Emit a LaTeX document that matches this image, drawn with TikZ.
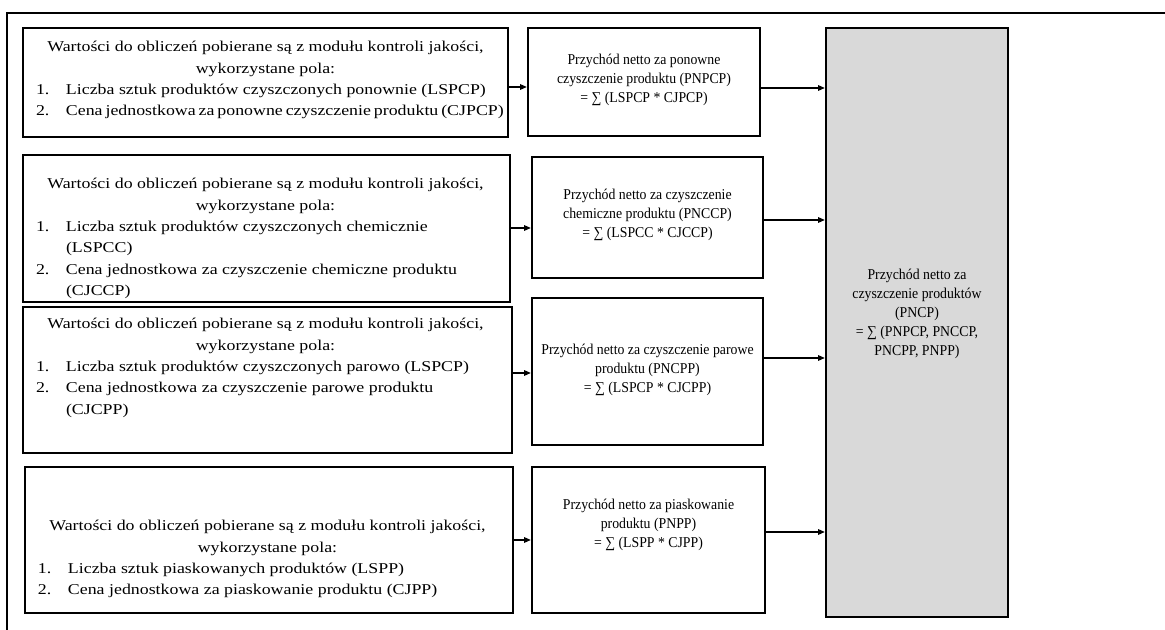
\documentclass[tikz,border=0pt]{standalone}
\usepackage{fontspec}
\setmainfont{Liberation Serif}
\newfontfamily\srcfont[FakeStretch=1.19]{Liberation Serif}
\newfontfamily\calcfont[FakeStretch=0.92]{Liberation Serif}
\usetikzlibrary{arrows.meta,fit}

% one centred line of a source box
\newcommand\srchead[1]{\makebox[363.75pt][c]{#1}}
% numbered field line and its continuation line (never broken)
\newcommand\srcitem[2]{\mbox{\hspace*{9.75pt}\makebox[22.5pt][l]{#1}#2}}
\newcommand\srcmore[1]{\mbox{\hspace*{32.25pt}#1}}
% text block of a source box: first baseline at the node's base
\newcommand\srcblock[1]{\parbox[t]{363.75pt}{\srcfont\fontsize{11.25pt}{16pt}\selectfont\raggedright\hfuzz=50pt #1}}
\newcommand\calcblock[2]{\parbox[t]{#1}{\calcfont\fontsize{11.25pt}{14.25pt}\selectfont\centering #2}}
% tighter word spacing for a long line
\newcommand\tight[1]{{\spaceskip=0.65\fontdimen2\font #1}}

\begin{document}
\begin{tikzpicture}[x=0.75pt,y=-0.75pt,
  srcbox/.style={draw,line width=1.8pt,inner sep=0pt},
  calcbox/.style={draw,line width=1.8pt,inner sep=0pt},
  sumbox/.style={draw,line width=1.8pt,inner sep=0pt,fill=sumgray},
  txt/.style={inner sep=0pt,outer sep=0pt},
  flow/.style={line width=0.8pt,-{Triangle[length=5pt,width=4.2pt]}}]
\definecolor{sumgray}{HTML}{D9D9D9}
\useasboundingbox (0,0) rectangle (1165,630);

% page frame
\draw[line width=1.5pt] (7,630) -- (7,13) -- (1165,13);

% source boxes
\node[srcbox,fit={(23,28) (508,137)}] (l1) {};
\node[srcbox,fit={(23,155) (510,302)}] (l2) {};
\node[srcbox,fit={(23,307) (512,453)}] (l3) {};
\node[srcbox,fit={(25,467) (513,613)}] (l4) {};

% calculation boxes
\node[calcbox,fit={(528,28) (760,136)}] (m1) {};
\node[calcbox,fit={(532,157) (763,278)}] (m2) {};
\node[calcbox,fit={(532,298) (763,445)}] (m3) {};
\node[calcbox,fit={(532,467) (765,613)}] (m4) {};

% total
\node[sumbox,fit={(826,28) (1008,617)}] (s) {};

% texts of the source boxes
\node[txt,anchor=base west] (l1t) at (23,52) {\srcblock{%
  \srchead{Wartości do obliczeń pobierane są z modułu kontroli jakości,}\\
  \srchead{wykorzystane pola:}\\
  \srcitem{1.}{Liczba sztuk produktów czyszczonych ponownie (LSPCP)}\\
  \srcitem{2.}{\tight{Cena jednostkowa za ponowne czyszczenie produktu (CJPCP)}}}};
\node[txt,anchor=base west] (l2t) at (23,189) {\srcblock{%
  \srchead{Wartości do obliczeń pobierane są z modułu kontroli jakości,}\\
  \srchead{wykorzystane pola:}\\
  \srcitem{1.}{Liczba sztuk produktów czyszczonych chemicznie}\\
  \srcmore{(LSPCC)}\\
  \srcitem{2.}{Cena jednostkowa za czyszczenie chemiczne produktu}\\
  \srcmore{(CJCCP)}}};
\node[txt,anchor=base west] (l3t) at (23,329) {\srcblock{%
  \srchead{Wartości do obliczeń pobierane są z modułu kontroli jakości,}\\
  \srchead{wykorzystane pola:}\\
  \srcitem{1.}{Liczba sztuk produktów czyszczonych parowo (LSPCP)}\\
  \srcitem{2.}{Cena jednostkowa za czyszczenie parowe produktu}\\
  \srcmore{(CJCPP)}}};
\node[txt,anchor=base west] (l4t) at (25,531) {\srcblock{%
  \srchead{Wartości do obliczeń pobierane są z modułu kontroli jakości,}\\
  \srchead{wykorzystane pola:}\\
  \srcitem{1.}{Liczba sztuk piaskowanych produktów (LSPP)}\\
  \srcitem{2.}{Cena jednostkowa za piaskowanie produktu (CJPP)}}};

% texts of the calculation boxes
\node[txt,anchor=base] (m1t) at (644,65) {\calcblock{174pt}{%
  Przychód netto za ponowne\\ czyszczenie produktu (PNPCP)\\ = ∑ (LSPCP * CJPCP)}};
\node[txt,anchor=base] (m2t) at (647.5,200) {\calcblock{174pt}{%
  Przychód netto za czyszczenie\\ chemiczne produktu (PNCCP)\\ = ∑ (LSPCC * CJCCP)}};
\node[txt,anchor=base] (m3t) at (647.5,355) {\calcblock{174pt}{%
  Przychód netto za czyszczenie parowe\\ produktu (PNCPP)\\ = ∑ (LSPCP * CJCPP)}};
\node[txt,anchor=base] (m4t) at (648.5,510) {\calcblock{174pt}{%
  Przychód netto za piaskowanie\\ produktu (PNPP)\\ = ∑ (LSPP * CJPP)}};

% text of the total
\node[txt,anchor=base] (st) at (917,280) {\calcblock{130pt}{%
  Przychód netto za\\ czyszczenie produktów\\ (PNCP)\\ = ∑ (PNPCP, PNCCP,\\ PNCPP, PNPP)}};

% source -> calculation
\draw[flow] (l1.east |- 0,87) -- (m1.west |- 0,87);
\draw[flow] (l2.east |- 0,228) -- (m2.west |- 0,228);
\draw[flow] (l3.east |- 0,373) -- (m3.west |- 0,373);
\draw[flow] (l4.east |- 0,540) -- (m4.west |- 0,540);

% calculation -> total
\draw[flow] (m1.east |- 0,88) -- (s.west |- 0,88);
\draw[flow] (m2.east |- 0,220) -- (s.west |- 0,220);
\draw[flow] (m3.east |- 0,358) -- (s.west |- 0,358);
\draw[flow] (m4.east |- 0,532) -- (s.west |- 0,532);
\end{tikzpicture}
\end{document}
